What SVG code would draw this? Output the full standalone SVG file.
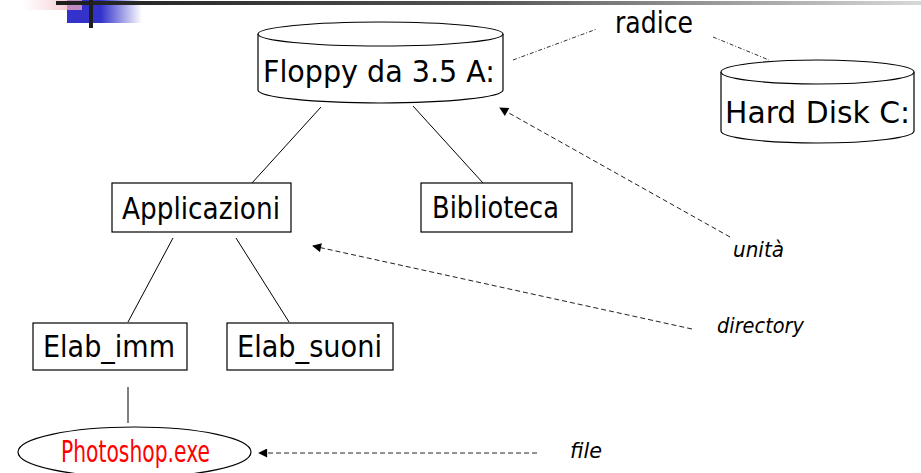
<svg xmlns="http://www.w3.org/2000/svg" width="921" height="473" viewBox="0 0 921 473">
  <defs>
    <linearGradient id="barGrad" x1="0" y1="0" x2="1" y2="0">
      <stop offset="0" stop-color="#1e1e1e"/>
      <stop offset="0.5" stop-color="#555"/>
      <stop offset="1" stop-color="#d8d8d8"/>
    </linearGradient>
    <linearGradient id="pinkGrad" x1="0" y1="0" x2="1" y2="0">
      <stop offset="0" stop-color="#f6c8cc" stop-opacity="0"/>
      <stop offset="1" stop-color="#f2b8c0" stop-opacity="1"/>
    </linearGradient>
    <linearGradient id="blueGrad" x1="0" y1="0" x2="1" y2="0">
      <stop offset="0" stop-color="#3333cc"/>
      <stop offset="0.45" stop-color="#3333cc"/>
      <stop offset="1" stop-color="#3333cc" stop-opacity="0"/>
    </linearGradient>
    <marker id="tip" viewBox="0 0 10 10" refX="9" refY="5" markerWidth="10" markerHeight="9" markerUnits="userSpaceOnUse" orient="auto">
      <path d="M0,0 L10,5 L0,10 z" fill="#000"/>
    </marker>
  </defs>
  <style>
    .box { fill: #fff; stroke: #000; stroke-width: 1.2; }
    .lbl { font-family: "DejaVu Sans", "Liberation Sans", sans-serif; font-size: 29.5px; fill: #000; }
    .note { font-family: "DejaVu Sans", "Liberation Sans", sans-serif; font-size: 22px; font-style: italic; fill: #000; }
    .edge { stroke: #000; stroke-width: 1; fill: none; }
    .ptr { stroke: #222; stroke-width: 1; fill: none; stroke-dasharray: 5 3; }
    .root { stroke: #333; stroke-width: 1; fill: none; stroke-dasharray: 4 2 1 2; }
  </style>

  <!-- header ornament -->
  <g id="header">
    <rect x="23" y="0" width="59" height="10" fill="url(#pinkGrad)"/>
    <rect x="67" y="0" width="75" height="23" fill="url(#blueGrad)"/>
    <rect x="67" y="0" width="15" height="10" fill="#c08cc0"/>
    <rect x="56" y="1" width="865" height="4" fill="url(#barGrad)"/>
    <rect x="89" y="0" width="4" height="28" fill="#1e1e1e"/>
  </g>

  <!-- tree edges and pointers -->
  <g id="connectors">
    <line class="edge" x1="321" y1="107" x2="252" y2="183"/>
    <line class="edge" x1="413" y1="106" x2="483" y2="183"/>
    <line class="edge" x1="173" y1="238" x2="128" y2="322"/>
    <line class="edge" x1="236" y1="238" x2="289" y2="322"/>
    <line class="edge" x1="128" y1="387" x2="128" y2="423"/>
    <line class="root" x1="513" y1="60" x2="597" y2="29"/>
    <line class="root" x1="713" y1="37" x2="769" y2="60"/>
    <line class="ptr" x1="730" y1="237" x2="500" y2="108" marker-end="url(#tip)"/>
    <line class="ptr" x1="692" y1="329" x2="313" y2="246" marker-end="url(#tip)"/>
    <line class="ptr" x1="537" y1="453" x2="259" y2="453" marker-end="url(#tip)"/>
  </g>

  <g id="floppy">
    <path class="box" d="M258,34 L258,90 A122.5,13 0 0 0 503,90 L503,34"/>
    <ellipse class="box" cx="380.5" cy="34" rx="122.5" ry="12"/>
    <text class="lbl" x="263" y="82" font-size="34" textLength="232" lengthAdjust="spacingAndGlyphs">Floppy da 3.5 A:</text>
  </g>

  <g id="harddisk">
    <path class="box" d="M721,72 L721,131 A96.5,12 0 0 0 914,131 L914,72"/>
    <ellipse class="box" cx="817.5" cy="72" rx="96.5" ry="12"/>
    <text class="lbl" x="725" y="123" textLength="185" lengthAdjust="spacingAndGlyphs">Hard Disk C:</text>
  </g>

  <g id="applicazioni">
    <rect class="box" x="112" y="183" width="179" height="49"/>
    <text class="lbl" x="122" y="219" textLength="158" lengthAdjust="spacingAndGlyphs">Applicazioni</text>
  </g>

  <g id="biblioteca">
    <rect class="box" x="421" y="183" width="151" height="49"/>
    <text class="lbl" x="432" y="218" textLength="127" lengthAdjust="spacingAndGlyphs">Biblioteca</text>
  </g>

  <g id="elab_imm">
    <rect class="box" x="33" y="323" width="154" height="47"/>
    <text class="lbl" x="43" y="357" textLength="132" lengthAdjust="spacingAndGlyphs">Elab_imm</text>
  </g>

  <g id="elab_suoni">
    <rect class="box" x="227" y="323" width="166" height="47"/>
    <text class="lbl" x="237" y="357" textLength="145" lengthAdjust="spacingAndGlyphs">Elab_suoni</text>
  </g>

  <g id="photoshop">
    <ellipse class="box" cx="134.5" cy="452" rx="116.5" ry="25"/>
    <text class="lbl" x="61" y="462" font-size="26" style="fill:#ff0000" textLength="149" lengthAdjust="spacingAndGlyphs">Photoshop.exe</text>
  </g>

  <g id="labels">
    <text class="lbl" x="615" y="33" textLength="78" lengthAdjust="spacingAndGlyphs">radice</text>
    <text class="note" x="733" y="257" textLength="51" lengthAdjust="spacingAndGlyphs">unità</text>
    <text class="note" x="717" y="333" textLength="87" lengthAdjust="spacingAndGlyphs">directory</text>
    <text class="note" x="570" y="458" textLength="32" lengthAdjust="spacingAndGlyphs">file</text>
  </g>
</svg>
